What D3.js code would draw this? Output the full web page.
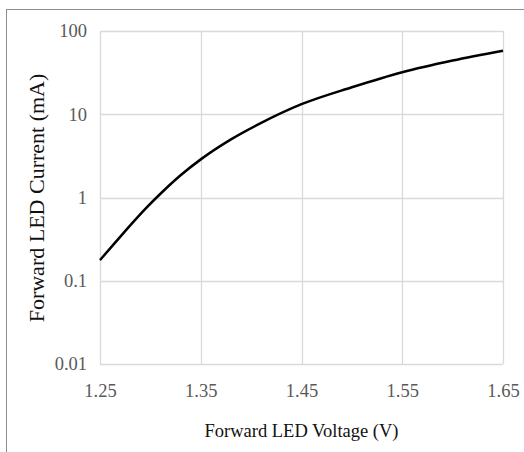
<!DOCTYPE html>
<html><head><meta charset="utf-8">
<script src="https://cdn.jsdelivr.net/npm/d3@7"></script>
<style>body{margin:0;background:#fff}svg{display:block}</style>
</head><body><svg id="c" width="524" height="452"></svg>
<script>
const voltages = [1.25, 1.265, 1.28, 1.295, 1.31, 1.33, 1.35, 1.38, 1.41, 1.45, 1.50, 1.55, 1.60, 1.65];
const currents = [0.177, 0.287, 0.463, 0.731, 1.11, 1.85, 2.87, 4.99, 7.87, 13.2, 21.1, 32, 44.2, 58];
const xTicks = [1.25, 1.35, 1.45, 1.55, 1.65];
const yTicks = [0.01, 0.1, 1, 10, 100];
const yTickLabels = ["0.01", "0.1", "1", "10", "100"];
const xTitle = "Forward LED Voltage (V)";
const yTitle = "Forward LED Current (mA)";

const svg = d3.select("#c");
const L = 100, R = 503, T = 31, B = 364;
const x = d3.scaleLinear().domain([1.25, 1.65]).range([L, R]);
const y = d3.scaleLog().domain([0.01, 100]).range([B, T]);
const font = "'Liberation Serif', 'Times New Roman', serif";

svg.append("rect").attr("x", 6.5).attr("y", 9.5).attr("width", 700).attr("height", 700)
  .attr("fill", "none").attr("stroke", "#8c8c8c").attr("stroke-width", 1);

const grid = svg.append("g");
grid.selectAll("line.v").data(xTicks).join("line")
  .attr("x1", d => Math.round(x(d)) + 0.5).attr("x2", d => Math.round(x(d)) + 0.5)
  .attr("y1", T).attr("y2", B).attr("stroke", "#d9d9d9").attr("stroke-width", 1.3);
grid.selectAll("line.h").data(yTicks).join("line")
  .attr("y1", d => Math.round(y(d)) + 0.5).attr("y2", d => Math.round(y(d)) + 0.5)
  .attr("x1", L).attr("x2", R).attr("stroke", "#d9d9d9").attr("stroke-width", 1.3);

const xAxis = d3.axisBottom(x).tickValues(xTicks).tickSize(0).tickPadding(0).tickFormat(d3.format(".2f"));
const gx = svg.append("g").attr("transform", `translate(0,${B + 33})`).call(xAxis);
gx.select(".domain").remove();
gx.selectAll("text").attr("dy", 0).attr("y", 0).attr("font-family", font).attr("font-size", 18.5).attr("fill", "#595959");

const yAxis = d3.axisLeft(y).tickValues(yTicks).tickSize(0).tickPadding(0)
  .tickFormat((d, i) => yTickLabels[i]);
const gy = svg.append("g").attr("transform", `translate(${L - 13},0)`).call(yAxis);
gy.select(".domain").remove();
gy.selectAll("text").attr("dy", "0.32em").attr("font-family", font).attr("font-size", 18.5).attr("fill", "#595959");

const data = voltages.map((v, i) => [v, currents[i]]);
const line = d3.line().x(d => x(d[0])).y(d => y(d[1])).curve(d3.curveMonotoneX);
svg.append("path").datum(data).attr("d", line).attr("fill", "none")
  .attr("stroke", "#000").attr("stroke-width", 2.5).attr("stroke-linecap", "butt");

svg.append("text").attr("x", (L + R) / 2).attr("y", 437).attr("text-anchor", "middle")
  .attr("font-family", font).attr("font-size", 18.5).attr("fill", "#111").text(xTitle);
svg.append("text").attr("transform", `translate(44,198) rotate(-90)`).attr("text-anchor", "middle")
  .attr("font-family", font).attr("font-size", 22).attr("fill", "#111").text(yTitle);
</script></body></html>
